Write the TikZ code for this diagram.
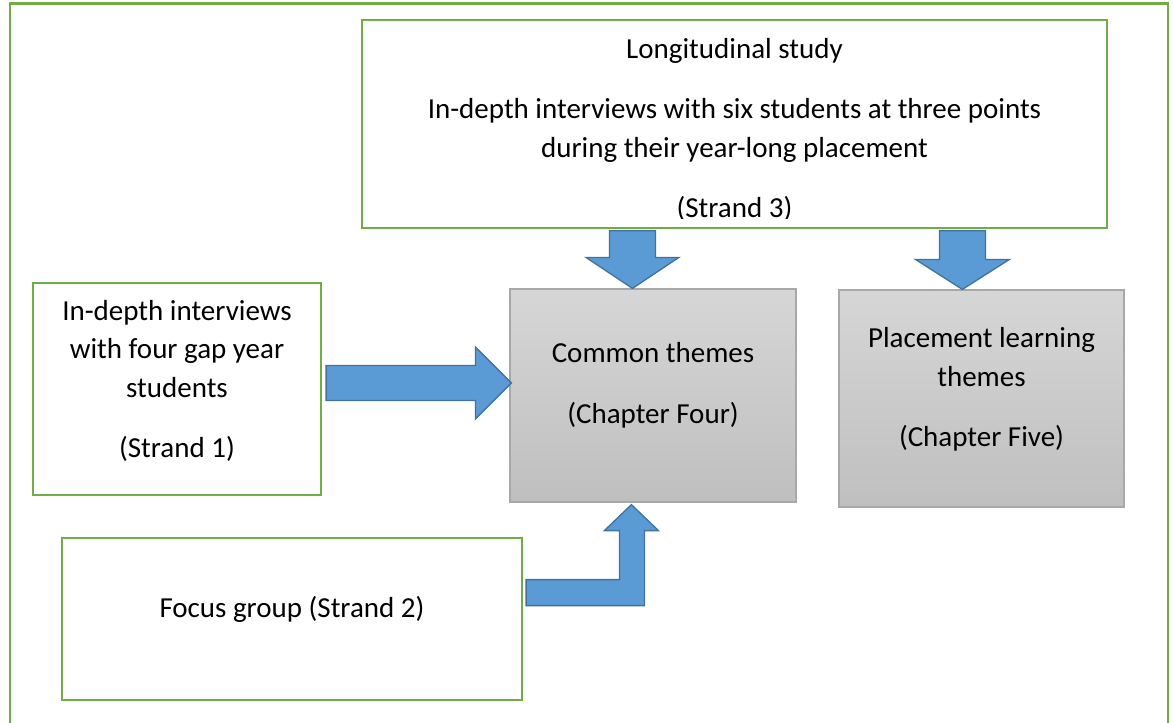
\documentclass[tikz,border=0pt]{standalone}
\usepackage{fontspec}
\setmainfont{Carlito}
\usetikzlibrary{calc}
\definecolor{framegreen}{HTML}{70AD47}
\definecolor{themegrayA}{HTML}{D6D6D6}
\definecolor{themegrayB}{HTML}{BFBFBF}
\definecolor{themeline}{HTML}{A8A8A8}
\definecolor{arrowfill}{HTML}{5B9BD5}
\definecolor{arrowline}{HTML}{41719C}
\tikzset{
  strandbox/.style={draw=framegreen, line width=2.2pt, fill=white, rectangle, inner sep=0pt},
  themebox/.style={draw=themeline, line width=1.2pt, rectangle, inner sep=0pt,
    top color=themegrayA, bottom color=themegrayB},
  boxtext/.style={anchor=north, inner sep=0pt, align=center,
    font=\fontsize{29}{38.5}\selectfont},
  blockarrow/.style={fill=arrowfill, draw=arrowline, line width=1.3pt, line join=miter}
}
\begin{document}
\begin{tikzpicture}[x=1pt,y=-1pt]
\useasboundingbox (0,0) rectangle (1173,723);
\clip (0,0) rectangle (1173,723);
\fill[white] (0,0) rectangle (1173,723);

% outer frame (runs past the lower edge)
\draw[framegreen, line width=2.4pt] (10,760) -- (10,3.5) -- (1168,3.5) -- (1168,760);

% boxes
\node[strandbox, minimum width=745pt, minimum height=208pt] (top) at (734.5,124) {};
\node[strandbox, minimum width=288pt, minimum height=212pt] (left) at (177,389) {};
\node[strandbox, minimum width=460pt, minimum height=162pt] (focus) at (292,619) {};
\node[themebox, minimum width=286pt, minimum height=213pt] (common) at (653,395.5) {};
\node[themebox, minimum width=285pt, minimum height=217pt] (place) at (981.5,398.5) {};

% texts
\begin{scope}
  \clip (362,20) rectangle (1107,218);
  \node[boxtext] (toptext) at ($(top.north)+(0,12.5)$)
    {\strut Longitudinal study\\[21.5pt]
     \strut In-depth interviews with six students at three points\\
     \strut during their year-long placement\\[21.5pt]
     \strut (Strand 3)};
\end{scope}
\node[boxtext] (lefttext) at ($(left.north)+(0,11)$)
  {\strut In-depth interviews\\ \strut with four gap year\\ \strut students\\[21.5pt] \strut (Strand 1)};
\node[boxtext] (focustext) at ($(focus.north)+(0,53)$) {\strut Focus group (Strand 2)};
\node[boxtext] (commontext) at ($(common.north)+(0,47)$)
  {\strut Common themes\\[22.5pt] \strut (Chapter Four)};
\node[boxtext] (placetext) at ($(place.north)+(0,31)$)
  {\strut Placement learning\\ \strut themes\\[22pt] \strut (Chapter Five)};

% block arrows
\coordinate (a1tip) at ($(common.north west)+(123,0)$);
\draw[blockarrow] ($(a1tip |- top.south)+(-23,1.5)$) |- ($(a1tip)+(-46.5,-31)$) -- (a1tip)
  -- ($(a1tip)+(46.5,-31)$) -| ($(a1tip |- top.south)+(23,1.5)$) -- cycle;

\coordinate (a2tip) at ($(place.north west)+(124,0)$);
\draw[blockarrow] ($(a2tip |- top.south)+(-23,1.5)$) |- ($(a2tip)+(-47,-30)$) -- (a2tip)
  -- ($(a2tip)+(47,-30)$) -| ($(a2tip |- top.south)+(23,1.5)$) -- cycle;

\coordinate (a3tip) at ($(common.west)+(2,-12.5)$);
\draw[blockarrow] ($(a3tip -| left.east)+(4,-17.5)$) -- ($(a3tip)+(-36,-17.5)$)
  -- ($(a3tip)+(-36,-36)$) -- (a3tip) -- ($(a3tip)+(-36,36)$) -- ($(a3tip)+(-36,17.5)$)
  -- ($(a3tip -| left.east)+(4,17.5)$) -- cycle;

\coordinate (a4tip) at ($(common.south west)+(122,2)$);
\draw[blockarrow] ($(a4tip -| focus.east)+(3,75)$) -- ($(a4tip)+(-12,75)$) -- ($(a4tip)+(-12,26)$)
  -- ($(a4tip)+(-27,26)$) -- (a4tip) -- ($(a4tip)+(27,26)$) -- ($(a4tip)+(13,26)$)
  -- ($(a4tip)+(13,101)$) -- ($(a4tip -| focus.east)+(3,101)$) -- cycle;
\end{tikzpicture}
\end{document}
